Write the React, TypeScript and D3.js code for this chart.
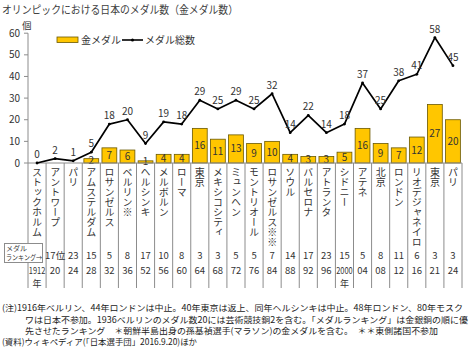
import React from 'react';
import * as d3 from 'd3';

const cities = ['ストックホルム','アントワープ','パリ','アムステルダム','ロサンゼルス','ベルリン※','ヘルシンキ','メルボルン','ローマ','東京','メキシコシティ','ミュンヘン','モントリオール','ロサンゼルス※※','ソウル','バルセロナ','アトランタ','シドニー','アテネ','北京','ロンドン','リオデジャネイロ','東京','パリ'];
const years = ['1912','20','24','28','32','36','52','56','60','64','68','72','76','84','88','92','96','2000','04','08','12','16','21','24'];
const rankings = ['','17位','23','15','5','8','17','10','8','3','3','5','5','7','14','17','23','15','5','8','11','6','3','3'];
const totalMedals = [0,2,1,5,18,20,9,19,18,29,25,29,25,32,14,22,14,18,37,25,38,41,58,45];
const goldMedals = [0,0,0,2,7,6,1,4,4,16,11,13,9,10,4,3,3,5,16,9,7,12,27,20];
const yTicks = [0,10,20,30,40,50,60];
const title = 'オリンピックにおける日本のメダル数（金メダル数）';
const notes = [
  '(注)1916年ベルリン、44年ロンドンは中止。40年東京は返上、同年ヘルシンキは中止。48年ロンドン、80年モスク',
  'ワは日本不参加。1936ベルリンのメダル数20には芸術競技銅2を含む。「メダルランキング」は金銀銅の順に優',
  '先させたランキング　＊朝鮮半島出身の孫基禎選手(マラソン)の金メダルを含む。　＊＊東側諸国不参加',
  '(資料)ウィキペディア(「日本選手団」2016.9.20)ほか',
];

const FONT = "'Noto Sans CJK JP', 'Noto Sans', sans-serif";
const GOLD = '#FFC600';
const GOLD_STROKE = '#6a5800';
const TXT = '#333';
const GRID = '#8c8c8c';

export default function App() {
  const W = 474, H = 356;
  const left = 28, right = 462, top = 33.2, base = 163, tableBottom = 288;
  const idx = years.map((_, i) => String(i));
  const x = d3.scaleBand<string>().domain(idx).range([left, right]).padding(0);
  const y = d3.scaleLinear().domain([0, 60]).range([base, top]);
  const bw = x.bandwidth();
  const barPad = bw * 0.09;
  const cx = (i: number) => (x(String(i)) as number) + bw / 2;
  const line = d3.line<number>().x((_, i) => cx(i)).y(d => y(d));

  const noteLayout = [
    { x: 2, y: 311, len: 461 },
    { x: 25, y: 323, len: 443 },
    { x: 25, y: 334, len: 413 },
    { x: 2, y: 345, len: 195 },
  ];

  return (
    <svg width={W} height={H} style={{ position: 'absolute', left: 0, top: 0, background: '#fff' }} fontFamily={FONT}>
      <rect x={0} y={0} width={W} height={H} fill="#fff" />
      <text x={2} y={14} fontSize={11} fill="#404040" textLength={236} lengthAdjust="spacingAndGlyphs">{title}</text>

      {/* legend */}
      <rect x={57} y={37} width={21} height={5.5} fill={GOLD} stroke={GOLD_STROKE} strokeWidth={0.8} />
      <text x={81} y={43.5} fontSize={10} fill={TXT}>金メダル</text>
      <line x1={122} x2={143} y1={40} y2={40} stroke="#000" strokeWidth={1.6} />
      <circle cx={132.5} cy={40} r={1.5} fill="#000" />
      <text x={145} y={43.5} fontSize={10} fill={TXT}>メダル総数</text>

      {/* y axis */}
      <text x={22} y={29} fontSize={9.5} fill={TXT}>個</text>
      <line x1={left} x2={left} y1={top} y2={tableBottom} stroke={GRID} strokeWidth={1} />
      {yTicks.map(t => (
        <g key={t}>
          <line x1={left - 4} x2={left} y1={y(t)} y2={y(t)} stroke={GRID} />
          <text x={20} y={y(t)} dy="0.35em" textAnchor="end" fontSize={10} fill={TXT}>{t}</text>
        </g>
      ))}

      {/* bars */}
      {goldMedals.map((g, i) => g > 0 && (
        <g key={'b' + i}>
          <rect x={(x(String(i)) as number) + barPad} y={y(g)} width={bw - 2 * barPad} height={base - y(g)}
            fill={GOLD} stroke={GOLD_STROKE} strokeWidth={0.8} />
          <text x={cx(i)} y={(y(g) + base) / 2} dy="0.35em" textAnchor="middle" fontSize={10} fill={TXT}>{g}</text>
        </g>
      ))}

      {/* x axis & table grid */}
      <line x1={left} x2={right} y1={base} y2={base} stroke={GRID} />
      {idx.map((k, i) => (
        <line key={'g' + i} x1={(x(k) as number) + bw} x2={(x(k) as number) + bw} y1={base} y2={tableBottom} stroke={GRID} />
      ))}

      {/* line */}
      <path d={line(totalMedals) || ''} fill="none" stroke="#000" strokeWidth={1.7} strokeLinejoin="round" />
      {totalMedals.map((v, i) => (
        <g key={'p' + i}>
          <circle cx={cx(i)} cy={y(v)} r={1.4} fill="#000" />
          <text x={cx(i)} y={y(v) - 5} textAnchor="middle" fontSize={10} fill={TXT}>{v}</text>
        </g>
      ))}

      {/* city labels (vertical) */}
      {cities.map((c, i) => (
        <text key={'c' + i} x={cx(i)} y={167} fontSize={10} fill="#333"
          style={{ writingMode: 'vertical-rl' as any }}>{c}</text>
      ))}

      {/* ranking box */}
      <rect x={4.5} y={243.5} width={38} height={19} fill="#fff" stroke={GRID} />
      <text x={6} y={251} fontSize={7} fill={TXT}>メダル</text>
      <text x={6} y={260} fontSize={7} fill={TXT} textLength={36} lengthAdjust="spacingAndGlyphs">ランキング→</text>

      {rankings.map((r, i) => r && (
        <text key={'r' + i} x={cx(i)} y={256} dy="0.35em" textAnchor="middle" fontSize={9.5} fill={TXT}>{r}</text>
      ))}
      {years.map((yr, i) => (
        <g key={'y' + i}>
          <text x={cx(i)} y={270.5} dy="0.35em" textAnchor="middle" fontSize={9.5} fill={TXT}
            {...(yr.length === 4 ? { textLength: 16.5, lengthAdjust: 'spacingAndGlyphs' } : {})}>{yr}</text>
          {yr.length === 4 && (
            <text x={cx(i)} y={284} dy="0.35em" textAnchor="middle" fontSize={9} fill={TXT}>年</text>
          )}
        </g>
      ))}

      {/* notes */}
      {notes.map((n, i) => (
        <text key={'n' + i} x={noteLayout[i].x} y={noteLayout[i].y} fontSize={8.5} fill="#222"
          textLength={noteLayout[i].len} lengthAdjust="spacingAndGlyphs">{n}</text>
      ))}
    </svg>
  );
}
